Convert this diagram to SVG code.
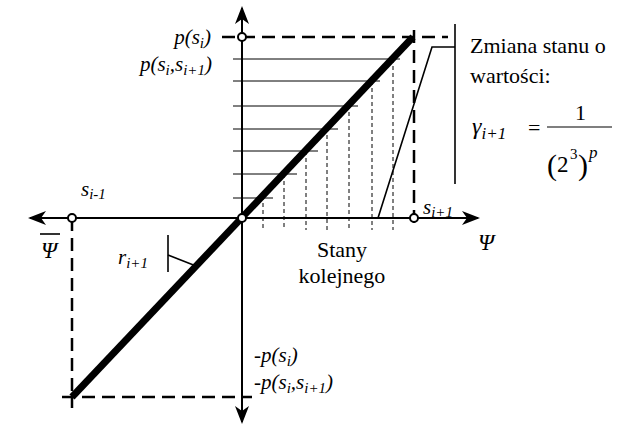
<svg xmlns="http://www.w3.org/2000/svg" width="640" height="428" viewBox="0 0 640 428">
<style>
.ax{stroke:#000;stroke-width:2;fill:none}
.dash{stroke:#000;stroke-width:2.5;fill:none;stroke-dasharray:13,7}
.grid{stroke:#000;stroke-width:1;fill:none}
.gd{stroke:#000;stroke-width:1;fill:none;stroke-dasharray:4,3}
.thin{stroke:#000;stroke-width:1.6;fill:none}
.diag{stroke:#000;stroke-width:7;fill:none}
.pt{fill:#fff;stroke:#000;stroke-width:2}
.m{font-style:italic}
</style>
<defs>
<marker id="arr" markerWidth="20" markerHeight="16" refX="16" refY="7" orient="auto" markerUnits="userSpaceOnUse">
<path d="M0,0 L18,7 L0,14 L5,7 z" fill="#000"/>
</marker>
</defs>
<g id="connectors">
<line class="ax" x1="242" y1="405" x2="242" y2="8" marker-end="url(#arr)"/>
<line class="ax" x1="242" y1="30" x2="242" y2="422" marker-end="url(#arr)"/>
<line class="ax" x1="414" y1="218" x2="478" y2="218" marker-end="url(#arr)"/>
<line class="ax" x1="242" y1="218" x2="30" y2="218" marker-end="url(#arr)"/>
<line class="ax" x1="230" y1="218" x2="414" y2="218"/>
<g id="grid">
<line class="grid" x1="233" y1="59" x2="400" y2="59"/>
<line class="grid" x1="233" y1="81" x2="380" y2="81"/>
<line class="grid" x1="233" y1="106" x2="358" y2="106"/>
<line class="grid" x1="233" y1="129" x2="338" y2="129"/>
<line class="grid" x1="233" y1="151" x2="318" y2="151"/>
<line class="grid" x1="233" y1="174" x2="297" y2="174"/>
<line class="grid" x1="233" y1="198" x2="273" y2="198"/>
<line class="gd" x1="263" y1="196" x2="263" y2="230"/>
<line class="gd" x1="284" y1="174" x2="284" y2="230"/>
<line class="gd" x1="306" y1="151" x2="306" y2="230"/>
<line class="gd" x1="327" y1="128" x2="327" y2="230"/>
<line class="gd" x1="349" y1="105" x2="349" y2="230"/>
<line class="gd" x1="372" y1="81" x2="372" y2="230"/>
<line class="gd" x1="393" y1="59" x2="393" y2="230"/>
</g>
<line class="dash" x1="222" y1="37" x2="448" y2="37"/>
<line class="dash" x1="414" y1="30" x2="414" y2="226"/>
<line class="dash" x1="72" y1="218" x2="72" y2="408"/>
<line class="dash" x1="62" y1="397" x2="252" y2="397"/>
<line class="diag" x1="72" y1="397" x2="413" y2="37"/>
<polyline class="thin" points="378,218 432,47 455,47"/>
<line class="thin" x1="455" y1="24" x2="455" y2="184"/>
<polyline class="thin" points="168,235 168,272"/>
<line class="thin" x1="168" y1="255" x2="196" y2="266"/>
</g>
<g id="points">
<circle class="pt" cx="242" cy="37" r="4"/>
<circle class="pt" cx="242" cy="218" r="4"/>
<circle class="pt" cx="72" cy="218" r="4"/>
<circle class="pt" cx="414" cy="218" r="4"/>
</g>
<g id="labels" font-family="Liberation Serif, Times New Roman, serif" fill="#000">
<text font-family="Liberation Serif, serif" class="m" x="211" y="44" font-size="21" text-anchor="end">p(s<tspan font-size="15" dy="4">i</tspan><tspan dy="-4">)</tspan></text>
<text font-family="Liberation Serif, serif" class="m" x="212" y="71" font-size="21" text-anchor="end">p(s<tspan font-size="15" dy="4">i</tspan><tspan dy="-4">,s</tspan><tspan font-size="15" dy="4">i+1</tspan><tspan dy="-4">)</tspan></text>
<text font-family="Liberation Serif, serif" class="m" x="81" y="196" font-size="21">s<tspan font-size="15" dy="3">i-1</tspan></text>
<text font-family="Liberation Serif, serif" class="m" x="41" y="258" font-size="23">Ψ</text>
<line x1="40" y1="234" x2="60" y2="234" stroke="#000" stroke-width="1.6"/>
<text font-family="Liberation Serif, serif" class="m" x="118" y="264" font-size="21">r<tspan font-size="15" dy="4">i+1</tspan></text>
<text font-family="Liberation Serif, serif" class="m" x="423" y="214" font-size="21">s<tspan font-size="15" dy="3">i+1</tspan></text>
<text font-family="Liberation Serif, serif" class="m" x="478" y="250" font-size="23">Ψ</text>
<text font-family="Liberation Serif, serif" x="342" y="257" font-size="22" text-anchor="middle">Stany</text>
<text font-family="Liberation Serif, serif" x="342" y="283" font-size="22" text-anchor="middle">kolejnego</text>
<text font-family="Liberation Serif, serif" class="m" x="254" y="362" font-size="21">-p(s<tspan font-size="15" dy="4">i</tspan><tspan dy="-4">)</tspan></text>
<text font-family="Liberation Serif, serif" class="m" x="254" y="389" font-size="21">-p(s<tspan font-size="15" dy="4">i</tspan><tspan dy="-4">,s</tspan><tspan font-size="15" dy="4">i+1</tspan><tspan dy="-4">)</tspan></text>
</g>
<g id="note" font-family="Liberation Serif, Times New Roman, serif" fill="#000">
<text font-family="Liberation Serif, serif" x="470" y="53" font-size="22">Zmiana stanu o</text>
<text font-family="Liberation Serif, serif" x="470" y="83" font-size="22">wartości:</text>
<text font-family="Liberation Serif, serif" class="m" x="472" y="134" font-size="24">γ<tspan font-size="17" dy="5">i+1</tspan></text>
<text font-family="Liberation Serif, serif" x="528" y="135" font-size="22">=</text>
<line x1="547" y1="127" x2="612" y2="127" stroke="#000" stroke-width="1.2"/>
<text font-family="Liberation Serif, serif" x="575" y="120" font-size="22">1</text>
<text font-family="Liberation Serif, serif" x="547" y="175" font-size="30">(</text>
<text font-family="Liberation Serif, serif" x="557" y="172" font-size="23">2</text>
<text font-family="Liberation Serif, serif" x="570" y="159" font-size="15">3</text>
<text font-family="Liberation Serif, serif" x="578" y="175" font-size="30">)</text>
<text font-family="Liberation Serif, serif" class="m" x="589" y="158" font-size="17">p</text>
</g>
</svg>
